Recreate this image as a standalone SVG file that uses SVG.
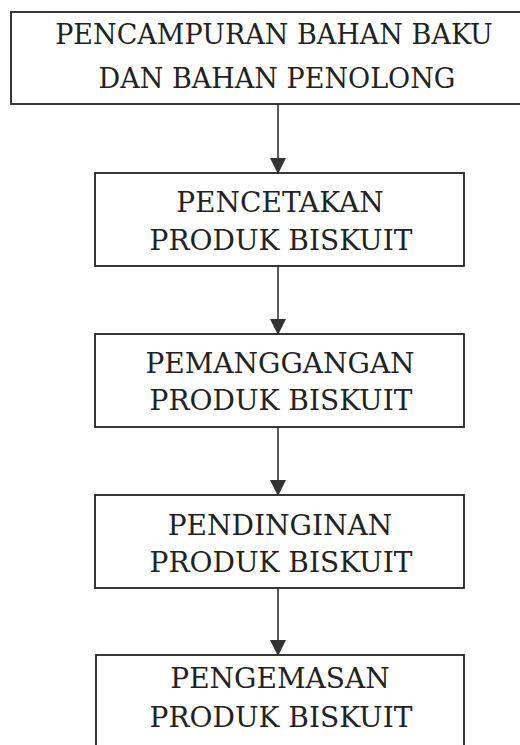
<svg xmlns="http://www.w3.org/2000/svg" width="520" height="745" viewBox="0 0 520 745">
<defs>
<style>
.box{fill:#fff;stroke:#222;stroke-width:1.8}
.t{font-family:"DejaVu Serif","Liberation Serif",serif;font-size:28px;fill:#222;text-anchor:middle}
.tt{font-size:27px}
.c{stroke:#333;stroke-width:1.6;fill:none}
</style>
<marker id="ah" markerWidth="16" markerHeight="16" viewBox="0 0 16 16" refX="15" refY="8" orient="auto" markerUnits="userSpaceOnUse">
<path d="M0,0 L16,8 L0,16 Z" fill="#333"/>
</marker>
</defs>
<rect width="520" height="745" fill="#fff"/>
<g id="connectors">
<line class="c" x1="278" y1="104" x2="278" y2="173" marker-end="url(#ah)"/>
<line class="c" x1="278" y1="266" x2="278" y2="334" marker-end="url(#ah)"/>
<line class="c" x1="278" y1="427" x2="278" y2="495" marker-end="url(#ah)"/>
<line class="c" x1="278" y1="588" x2="278" y2="655" marker-end="url(#ah)"/>
</g>
<g id="n1">
<rect class="box" x="11" y="12" width="520" height="92"/>
<text class="t tt" x="274" y="44">PENCAMPURAN BAHAN BAKU</text>
<text class="t tt" x="277" y="88">DAN BAHAN PENOLONG</text>
</g>
<g id="n2">
<rect class="box" x="95" y="173" width="369" height="93"/>
<text class="t" x="280" y="212">PENCETAKAN</text>
<text class="t" x="281" y="250">PRODUK BISKUIT</text>
</g>
<g id="n3">
<rect class="box" x="95" y="334" width="369" height="93"/>
<text class="t" x="280" y="373">PEMANGGANGAN</text>
<text class="t" x="281" y="410">PRODUK BISKUIT</text>
</g>
<g id="n4">
<rect class="box" x="95" y="495" width="369" height="93"/>
<text class="t" x="280" y="535">PENDINGINAN</text>
<text class="t" x="281" y="572">PRODUK BISKUIT</text>
</g>
<g id="n5">
<rect class="box" x="96" y="655" width="368" height="100"/>
<text class="t" x="280" y="688">PENGEMASAN</text>
<text class="t" x="281" y="727">PRODUK BISKUIT</text>
</g>
</svg>
